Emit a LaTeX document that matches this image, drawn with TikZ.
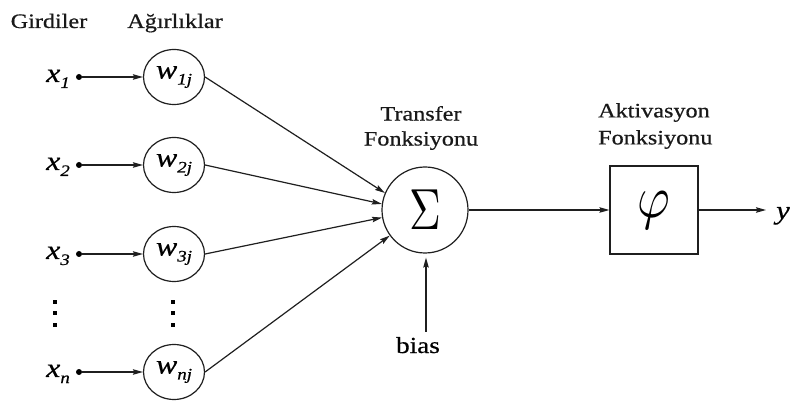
\documentclass[tikz,border=0pt]{standalone}
\usepackage{fontspec}
\setmainfont{Liberation Serif}[FakeStretch=1.18,FakeBold=0.6]
\usetikzlibrary{arrows.meta,shapes.geometric}
\newcommand{\mysub}[1]{\raisebox{-6pt}{\fontsize{16}{16}\selectfont #1}}
\tikzset{
  conn/.style={line width=1.2pt,draw=black!88},
  arr/.style={conn,-{Stealth[length=10pt,width=5.5pt,inset=1.5pt]}},
  head/.style={font=\fontsize{20.5}{25}\selectfont,inner sep=0pt,text=black!90},
  wnode/.style={ellipse,draw=black!88,line width=1.2pt,minimum width=61pt,minimum height=55pt,inner sep=0pt,font=\fontsize{27}{27}\selectfont\itshape},
  xlab/.style={anchor=base east,inner sep=0pt,font=\fontsize{27}{27}\selectfont\itshape},
  indot/.style={circle,fill=black,inner sep=0pt,minimum size=6pt},
}
\begin{document}
\begin{tikzpicture}[x=1pt,y=-1pt]
\clip (0,0) rectangle (790,403);
\fill[white] (0,0) rectangle (790,403);
% headings
\node[head,anchor=base] (gir) at (49,28) {Girdiler};
\node[head,anchor=base] (agi) at (175,28) {Ağırlıklar};
\node[head,align=center] (tf) at (421,128) {Transfer\\Fonksiyonu};
\node[head,align=left,anchor=west,font=\fontsize{20.5}{27}\selectfont] (af) at (598,126) {Aktivasyon\\Fonksiyonu};
% inputs
\foreach \i/\yy/\s in {1/77/1, 2/165/2, 3/254/3, n/372/n}{
  \node[indot] (d\i) at (79,\yy) {};
  \node[xlab] (x\i) at (70,\yy+5) {x\mysub{\s}};
  \node[wnode] (w\i) at (174,\yy) {w\mysub{\s j}};
  \draw[arr] (d\i) -- (w\i);
}
% vertical dots
\foreach \xx in {55,173}{
  \foreach \yy in {302,313,325}{
    \fill[black] (\xx-1.8,\yy-1.8) rectangle (\xx+1.8,\yy+1.8);
  }
}
% summation
\node[circle,draw=black!88,line width=1.2pt,minimum size=86pt,inner sep=0pt] (s) at (425,210) {\scalebox{4.4}[5.8]{$\Sigma$}};
\draw[arr] (w1.east) -- (s.157);
\draw[arr] (w2.east) -- (s.172);
\draw[arr] (w3.east) -- (s.190);
\draw[arr] (wn.east) -- (s.216);
% bias
\node[inner sep=0pt,anchor=base,font=\fontsize{23}{23}\selectfont] (bias) at (418,353) {bias};
\coordinate (bb) at (426,332);
\draw[arr,shorten >=4pt] (bb) -- (bb |- s.south);
% activation
\node[draw=black!88,line width=1.2pt,minimum width=88pt,minimum height=88pt,inner sep=0pt] (phi) at (654,210) {\scalebox{5.0}[6.0]{$\varphi$}};
\draw[arr] (s.east) -- (phi.west);
\coordinate (yend) at (766,210);
\draw[arr] (phi.east) -- (yend);
\node[anchor=base west,inner sep=0pt,font=\fontsize{26}{26}\selectfont\itshape] (yout) at (776,219) {y};
\end{tikzpicture}
\end{document}
